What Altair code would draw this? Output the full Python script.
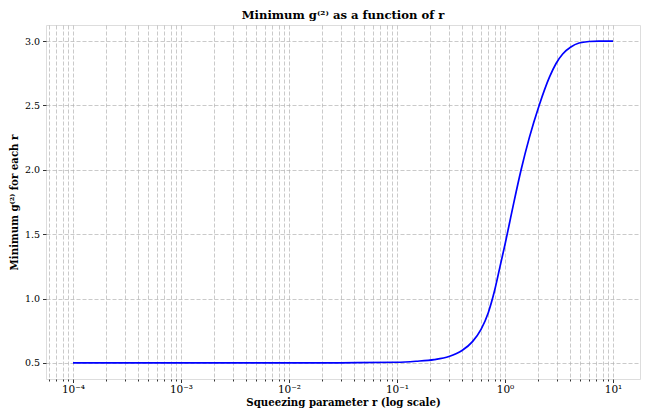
import altair as alt
import pandas as pd

# Data
r_values = [1e-4, 1e-3, 1e-2, 0.03, 0.1, 0.15, 0.221, 0.303, 0.40, 0.50, 0.60,
            0.70, 0.80, 0.90, 1.0, 1.1, 1.2, 1.41, 1.68, 2.07, 2.58, 2.97,
            3.42, 4.07, 4.85, 5.99, 7.4, 10.0]
g2_min = [0.5, 0.5, 0.5, 0.501, 0.505, 0.513, 0.526, 0.55, 0.596, 0.665, 0.76,
          0.89, 1.06, 1.25, 1.42, 1.585, 1.735, 2.0, 2.25, 2.5, 2.72, 2.826,
          2.90, 2.954, 2.985, 2.997, 3.0, 3.0]
y_ticks = [0.5, 1.0, 1.5, 2.0, 2.5, 3.0]
major_exps = [-4, -3, -2, -1, 0, 1]
exp_labels = ["10⁻⁴", "10⁻³", "10⁻²", "10⁻¹", "10⁰", "10¹"]

df = pd.DataFrame({"r": r_values, "g2": g2_min})

xmin, xmax = 10 ** -4.25, 10 ** 1.25
x_ticks = []
for e in range(-5, 2):
    for k in range(1, 10):
        v = k * 10.0 ** e
        if xmin <= v <= xmax:
            x_ticks.append(v)

is_major = "abs(log(datum.value)/LN10 - round(log(datum.value)/LN10)) < 0.01"
expo = "round(log(datum.value)/LN10)"
lab = "''"
for e, s in reversed(list(zip(major_exps, exp_labels))):
    lab = f"({expo} == {e} ? '{s}' : {lab})"
label_expr = f"{is_major} ? {lab} : ''"

FONT = "DejaVu Serif"
GRID = dict(grid=True, gridDash=[4, 2], gridColor="#b0b0b0", gridOpacity=0.85, gridWidth=0.8)

chart = alt.Chart(df).mark_line(color="#0000ff", strokeWidth=1.7, interpolate="monotone").encode(
    x=alt.X("r:Q",
            scale=alt.Scale(type="log", domain=[xmin, xmax], nice=False),
            axis=alt.Axis(values=x_ticks, labelExpr=label_expr,
                          title="Squeezing parameter r (log scale)",
                          tickSize={"condition": {"test": is_major, "value": 3.5}, "value": 2},
                          tickColor="black", tickWidth=0.8, domain=False,
                          labelFont=FONT, labelFontSize=10.5, labelColor="black", labelPadding=2,
                          labelFlush=False, labelOverlap=False,
                          titleFont=FONT, titleFontSize=10.2, titleFontWeight="bold",
                          titleColor="black", titlePadding=2, **GRID)),
    y=alt.Y("g2:Q",
            scale=alt.Scale(domain=[0.375, 3.125], nice=False, zero=False),
            axis=alt.Axis(values=y_ticks, format=".1f",
                          title="Minimum g⁽²⁾ for each r",
                          tickSize=3.5, tickColor="black", tickWidth=0.8, domain=False,
                          labelFont=FONT, labelFontSize=9.5, labelColor="black", labelPadding=3,
                          titleFont=FONT, titleFontSize=10.2, titleFontWeight="bold",
                          titleColor="black", titlePadding=5, **GRID)),
).properties(
    width=594, height=354,
    title=alt.TitleParams("Minimum g⁽²⁾ as a function of r", font=FONT, fontSize=11.6,
                          fontWeight="bold", anchor="middle", color="black", offset=3),
    autosize=alt.AutoSizeParams(type="none"),
    padding={"left": 38, "top": 17, "right": 1, "bottom": 29},
).configure_view(stroke="black", strokeWidth=1).configure(background="white")

chart.save("out.html", embed_options={"renderer": "svg", "actions": False})
